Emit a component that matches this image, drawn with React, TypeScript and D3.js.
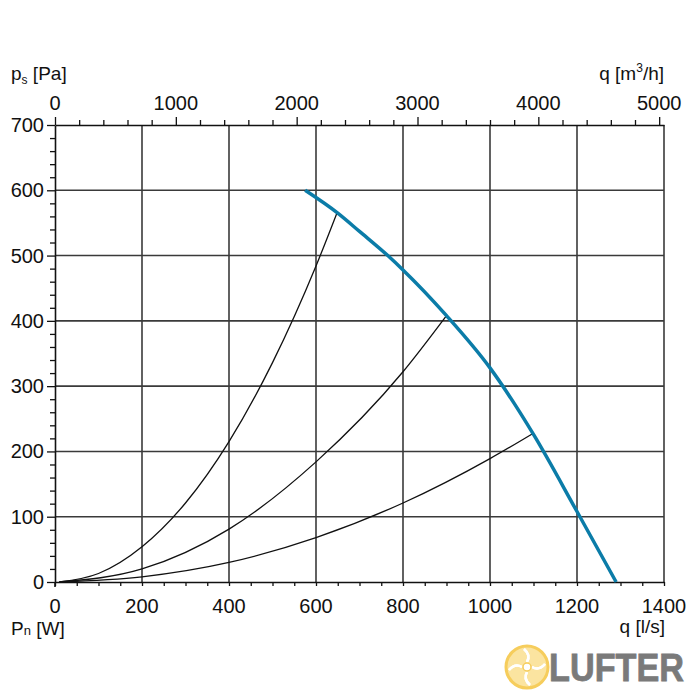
import React, { useEffect, useRef } from "react";
import * as d3 from "d3";

// axis ticks
const flowTicks = [0, 200, 400, 600, 800, 1000, 1200, 1400];
const pressureTicks = [0, 100, 200, 300, 400, 500, 600, 700];
const m3hTicks = [0, 1000, 2000, 3000, 4000, 5000];

// fan curve (l/s, Pa)
const fanFlow = [575, 650, 700, 765, 800, 900, 1000, 1100, 1200, 1290];
const fanPressure = [600, 565, 537, 500, 478, 408, 328, 226, 108, 0];

// system curves (l/s, Pa)
const sys1Flow = [10, 100, 200, 300, 400, 500, 600, 648];
const sys1Pressure = [0, 13, 54, 121, 215, 336, 484, 565];
const sys2Flow = [10, 200, 400, 600, 800, 900];
const sys2Pressure = [0, 20, 81, 184, 322, 408];
const sys3Flow = [10, 200, 400, 600, 800, 1000, 1100];
const sys3Pressure = [0, 8, 30, 68, 121, 189, 228];

const FONT = "'Liberation Sans', Arial, sans-serif";

const App = () => {
  const ref = useRef<SVGSVGElement>(null);

  useEffect(() => {
    const svg = d3.select(ref.current);
    svg.selectAll("*").remove();

    const left = 55, right = 664, top = 125, bottom = 582;
    const x = d3.scaleLinear().domain([0, 1400]).range([left, right]);
    const xTop = d3.scaleLinear().domain([0, 1400 * 3.6]).range([left, right]);
    const y = d3.scaleLinear().domain([0, 700]).range([bottom, top]);

    // grid
    const grid = svg.append("g").attr("stroke", "#3a3a3a").attr("stroke-width", 1.6);
    grid.selectAll("line.v")
      .data(flowTicks.slice(1))
      .join("line")
      .attr("x1", (d) => x(d)).attr("x2", (d) => x(d))
      .attr("y1", top).attr("y2", bottom);
    grid.selectAll("line.h")
      .data(pressureTicks.slice(1, -1))
      .join("line")
      .attr("class", "h")
      .attr("x1", left).attr("x2", right)
      .attr("y1", (d) => y(d)).attr("y2", (d) => y(d));

    // axes (ticks only, labels drawn separately)
    const styleAxis = (g) => {
      g.select(".domain").attr("stroke", "#111").attr("stroke-width", 1.6);
      g.selectAll(".tick line").attr("stroke", "#111").attr("stroke-width", 1.3);
    };
    svg.append("g")
      .attr("transform", `translate(0,${bottom})`)
      .call(d3.axisBottom(x).tickValues(d3.range(0, 1401, 50)).tickSize(4).tickSizeOuter(0).tickFormat(() => ""))
      .call(styleAxis);
    svg.append("g")
      .attr("transform", `translate(0,${top})`)
      .call(d3.axisTop(xTop).tickValues(d3.range(0, 5001, 200)).tickSize(5).tickSizeOuter(0).tickFormat(() => ""))
      .call(styleAxis)
      .call((g) => g.selectAll(".tick line").filter((d) => d % 1000 === 0).attr("y2", -8));
    svg.append("g")
      .attr("transform", `translate(${left},0)`)
      .call(d3.axisLeft(y).tickValues(d3.range(0, 701, 20)).tickSize(5).tickSizeOuter(0).tickFormat(() => ""))
      .call(styleAxis)
      .call((g) => g.selectAll(".tick line").filter((d) => d % 100 === 0).attr("x2", -8));
    svg.append("line")
      .attr("x1", left).attr("x2", left).attr("y1", bottom).attr("y2", bottom + 5)
      .attr("stroke", "#111").attr("stroke-width", 1.6);

    // tick labels
    const labels = svg.append("g").attr("font-family", FONT).attr("font-size", 20).attr("fill", "#111");
    labels.selectAll("text.b")
      .data(flowTicks)
      .join("text")
      .attr("x", (d) => x(d)).attr("y", 613)
      .attr("text-anchor", "middle")
      .text((d) => d);
    labels.append("g").selectAll("text")
      .data(m3hTicks)
      .join("text")
      .attr("x", (d) => xTop(d)).attr("y", 110)
      .attr("text-anchor", "middle")
      .text((d) => d);
    labels.append("g").selectAll("text")
      .data(pressureTicks)
      .join("text")
      .attr("x", 44).attr("y", (d) => y(d) + 7)
      .attr("text-anchor", "end")
      .text((d) => d);

    // axis titles
    const titles = svg.append("g").attr("font-family", FONT).attr("font-size", 19).attr("fill", "#111");
    const ps = titles.append("text").attr("x", 11).attr("y", 80);
    ps.append("tspan").text("p");
    ps.append("tspan").attr("font-size", 12).attr("dy", 4).text("s");
    ps.append("tspan").attr("dy", -4).text(" [Pa]");
    const qm = titles.append("text").attr("x", 664).attr("y", 80).attr("text-anchor", "end");
    qm.append("tspan").text("q [m");
    qm.append("tspan").attr("font-size", 12).attr("dy", -8).text("3");
    qm.append("tspan").attr("dy", 8).text("/h]");
    const pn = titles.append("text").attr("x", 11).attr("y", 635);
    pn.append("tspan").text("P");
    pn.append("tspan").attr("font-size", 13).text("n");
    pn.append("tspan").text(" [W]");
    titles.append("text").attr("x", 665).attr("y", 633).attr("text-anchor", "end").text("q [l/s]");

    // curves
    const line = d3.line<[number, number]>()
      .x((d) => x(d[0]))
      .y((d) => y(d[1]))
      .curve(d3.curveMonotoneX);
    const systems = [
      d3.zip(sys1Flow, sys1Pressure),
      d3.zip(sys2Flow, sys2Pressure),
      d3.zip(sys3Flow, sys3Pressure),
    ];
    svg.append("g").selectAll("path")
      .data(systems)
      .join("path")
      .attr("d", (d) => line(d as [number, number][]))
      .attr("fill", "none")
      .attr("stroke", "#111")
      .attr("stroke-width", 1.3);
    svg.append("path")
      .attr("d", line(d3.zip(fanFlow, fanPressure) as [number, number][]))
      .attr("fill", "none")
      .attr("stroke", "#0b7ca8")
      .attr("stroke-width", 3.5);

    // logo
    const logo = svg.append("g").attr("transform", "translate(527,667)");
    logo.append("circle").attr("r", 21).attr("fill", "#fbe4a0").attr("stroke", "#f6cd5c").attr("stroke-width", 3);
    logo.selectAll("path.blade")
      .data([0, 90, 180, 270])
      .join("path")
      .attr("d", "M0,-5 Q4,-12 -3,-18 M5,0 Q12,4 18,-3")
      .attr("transform", (d) => `rotate(${d})`)
      .attr("fill", "none")
      .attr("stroke", "#fff")
      .attr("stroke-width", 2.5);
    logo.append("circle").attr("r", 4).attr("fill", "#fff").attr("stroke", "#f6cd5c").attr("stroke-width", 1.5);
    svg.append("text")
      .attr("x", 549).attr("y", 681)
      .attr("font-family", FONT).attr("font-weight", "bold").attr("font-size", 38)
      .attr("textLength", 135).attr("lengthAdjust", "spacingAndGlyphs")
      .attr("stroke", "#7a7a7a").attr("stroke-width", 0.8)
      .attr("fill", "#7a7a7a")
      .text("LUFTER");
  }, []);

  return (
    <svg
      ref={ref}
      width={700}
      height={700}
      style={{ position: "absolute", left: 0, top: 0, background: "#fff" }}
    />
  );
};

export default App;
